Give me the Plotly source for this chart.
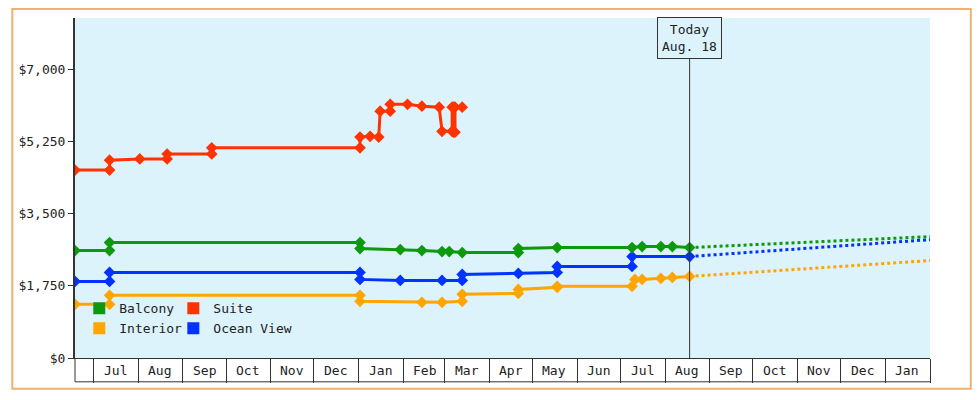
import plotly.graph_objs as go
import pandas as pd

# price history (step points duplicated at change dates)
suite_dates = ['2023-06-18', '2023-07-12', '2023-07-12', '2023-08-02', '2023-08-21', '2023-08-21',
               '2023-09-21', '2023-09-21', '2024-01-02', '2024-01-02', '2024-01-09', '2024-01-15',
               '2024-01-16', '2024-01-23', '2024-01-23', '2024-02-04', '2024-02-14', '2024-02-26',
               '2024-02-28', '2024-03-06', '2024-03-06', '2024-03-07', '2024-03-07', '2024-03-08',
               '2024-03-08', '2024-03-13']
suite_price = [4560, 4560, 4800, 4830, 4830, 4950, 4950, 5100, 5100, 5360, 5380, 5360,
               5990, 5990, 6155, 6155, 6110, 6085, 5500, 5500, 6085, 6085, 5480, 5480, 6085, 6085]

balcony_dates = ['2023-06-18', '2023-07-12', '2023-07-12', '2024-01-02', '2024-01-02', '2024-01-30',
                 '2024-02-14', '2024-02-28', '2024-03-04', '2024-03-13', '2024-04-21', '2024-04-21',
                 '2024-05-18', '2024-07-09', '2024-07-16', '2024-07-29', '2024-08-06', '2024-08-18']
balcony_price = [2607, 2607, 2800, 2800, 2655, 2631, 2607, 2583, 2583, 2559, 2559, 2655,
                 2679, 2679, 2703, 2703, 2703, 2679]

ocean_dates = ['2023-06-18', '2023-07-12', '2023-07-12', '2024-01-02', '2024-01-02', '2024-01-30',
               '2024-02-28', '2024-03-13', '2024-03-13', '2024-04-21', '2024-05-18', '2024-05-18',
               '2024-07-09', '2024-07-09', '2024-08-18']
ocean_price = [1859, 1859, 2076, 2076, 1907, 1883, 1883, 1883, 2027, 2052, 2076, 2221,
               2221, 2462, 2462]

interior_dates = ['2023-06-18', '2023-07-12', '2023-07-12', '2024-01-02', '2024-01-02', '2024-02-14',
                  '2024-02-28', '2024-03-13', '2024-03-13', '2024-04-21', '2024-04-21', '2024-05-18',
                  '2024-05-18', '2024-07-09', '2024-07-11', '2024-07-16', '2024-07-29', '2024-08-06',
                  '2024-08-18']
interior_price = [1303, 1303, 1521, 1521, 1376, 1352, 1352, 1376, 1545, 1569, 1665, 1714,
                  1738, 1738, 1907, 1907, 1931, 1955, 1979]

# projections
proj_dates = ['2024-08-18', '2025-02-01']
balcony_proj = [2679, 2945]
ocean_proj = [2462, 2872]
interior_proj = [1979, 2365]

today = '2024-08-18'
y_ticks = [0, 1750, 3500, 5250, 7000]
month_starts = pd.date_range('2023-07-01', '2025-02-01', freq='MS')

colors = dict(Balcony='#0c9a0c', Suite='#ff3300', Interior='#ffa500', Ocean='#0033ff')
mono = 'DejaVu Sans Mono'

fig = go.Figure()

def hist(x, y, c):
    fig.add_trace(go.Scatter(x=x, y=y, mode='lines+markers', showlegend=False, hoverinfo='skip',
                             line=dict(color=c, width=3),
                             marker=dict(symbol='diamond', size=9, color=c)))

def proj(y, c):
    fig.add_trace(go.Scatter(x=proj_dates, y=y, mode='lines', showlegend=False,
                             line=dict(color=c, width=3, dash='dot')))

proj(balcony_proj, colors['Balcony'])
proj(ocean_proj, colors['Ocean'])
proj(interior_proj, colors['Interior'])
hist(interior_dates, interior_price, colors['Interior'])
hist(ocean_dates, ocean_price, colors['Ocean'])
hist(balcony_dates, balcony_price, colors['Balcony'])
hist(suite_dates, suite_price, colors['Suite'])

# legend entries (square swatches), two columns
for name, c, lg in [('Balcony', colors['Balcony'], 'legend'), ('Interior', colors['Interior'], 'legend'),
                    ('Suite', colors['Suite'], 'legend2'), ('Ocean View', colors['Ocean'], 'legend2')]:
    fig.add_trace(go.Scatter(x=[None], y=[None], mode='markers', name=name, legend=lg,
                             marker=dict(symbol='square', size=12, color=c)))

# month labels centered in boxes
for m in month_starts[:-1]:
    mid = m + pd.Timedelta(days=15)
    fig.add_annotation(x=mid, y=-0.037, yref='paper', text=m.strftime('%b'), showarrow=False,
                       yanchor='middle', font=dict(family=mono, size=13, color='#222'))

fig.add_shape(type='line', xref='x', yref='paper', x0=today, x1=today, y0=0, y1=0.88,
              line=dict(color='#333', width=1))
fig.add_annotation(x=today, y=0.88, yref='paper', yanchor='bottom', text='Today<br>Aug. 18',
                   showarrow=False, bgcolor='#dcf3fc', bordercolor='#333', borderwidth=1, borderpad=4,
                   font=dict(family=mono, size=13, color='#222'))
# bottom edge of month boxes and left edge
fig.add_shape(type='line', xref='paper', yref='paper', x0=0, x1=1, y0=-0.07, y1=-0.07,
              line=dict(color='#333', width=1))
fig.add_shape(type='line', xref='paper', yref='paper', x0=0, x1=0, y0=0, y1=-0.07,
              line=dict(color='#333', width=1))
# outer orange border
fig.add_shape(type='rect', xref='paper', yref='paper', x0=-63/859, x1=1+41/859,
              y0=-31/342, y1=1+9/342, line=dict(color='#f0b070', width=2))

fig.update_xaxes(range=['2023-06-18', '2025-02-01'], tickvals=month_starts, showticklabels=False,
                 ticks='outside', ticklen=24, tickcolor='#333', showgrid=False, zeroline=False,
                 showline=True, linecolor='#333', linewidth=1)
fig.update_yaxes(range=[0, 8250], tickvals=y_ticks, tickformat='$,', ticks='outside', ticklen=5,
                 tickcolor='#333', showgrid=False, zeroline=False, showline=True, linecolor='#333',
                 linewidth=2, tickfont=dict(family=mono, size=13, color='#222'))
fig.update_layout(width=964, height=384, plot_bgcolor='#dcf3fc', paper_bgcolor='white',
                  margin=dict(l=63, r=42, t=10, b=32),
                  font=dict(family=mono, size=13, color='#222'),
                  legend=dict(x=0.005, y=0.19, xanchor='left', yanchor='top', bgcolor='rgba(0,0,0,0)',
                              tracegroupgap=0, itemwidth=30, font=dict(family=mono, size=13)),
                  legend2=dict(x=0.115, y=0.19, xanchor='left', yanchor='top', bgcolor='rgba(0,0,0,0)',
                               itemwidth=30, font=dict(family=mono, size=13)))
fig.write_html("out.html")
